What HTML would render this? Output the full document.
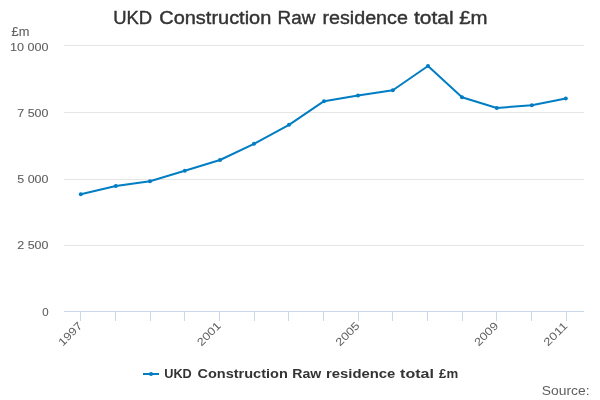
<!DOCTYPE html>
<html><head><meta charset="utf-8"><title>UKD Construction Raw residence total £m</title>
<style>
html,body{margin:0;padding:0;background:#fff;}
body{width:600px;height:400px;overflow:hidden;font-family:"Liberation Sans",sans-serif;}
svg{display:block;will-change:transform;}
text{font-family:"Liberation Sans",sans-serif;white-space:pre;}
</style></head><body>
<svg width="600" height="400" viewBox="0 0 600 400">
<rect x="0" y="0" width="600" height="400" fill="#ffffff"/>
<path d="M64 45.5H584" stroke="#e6e6e6" stroke-width="1" fill="none"/>
<path d="M64 112.5H584" stroke="#e6e6e6" stroke-width="1" fill="none"/>
<path d="M64 179.5H584" stroke="#e6e6e6" stroke-width="1" fill="none"/>
<path d="M64 245.5H584" stroke="#e6e6e6" stroke-width="1" fill="none"/>
<path d="M64 311.5H584" stroke="#ccd6eb" stroke-width="1" fill="none"/>
<path d="M80.5 312V321" stroke="#ccd6eb" stroke-width="1" fill="none"/>
<path d="M115.5 312V321" stroke="#ccd6eb" stroke-width="1" fill="none"/>
<path d="M150.5 312V321" stroke="#ccd6eb" stroke-width="1" fill="none"/>
<path d="M184.5 312V321" stroke="#ccd6eb" stroke-width="1" fill="none"/>
<path d="M219.5 312V321" stroke="#ccd6eb" stroke-width="1" fill="none"/>
<path d="M254.5 312V321" stroke="#ccd6eb" stroke-width="1" fill="none"/>
<path d="M288.5 312V321" stroke="#ccd6eb" stroke-width="1" fill="none"/>
<path d="M323.5 312V321" stroke="#ccd6eb" stroke-width="1" fill="none"/>
<path d="M358.5 312V321" stroke="#ccd6eb" stroke-width="1" fill="none"/>
<path d="M392.5 312V321" stroke="#ccd6eb" stroke-width="1" fill="none"/>
<path d="M427.5 312V321" stroke="#ccd6eb" stroke-width="1" fill="none"/>
<path d="M462.5 312V321" stroke="#ccd6eb" stroke-width="1" fill="none"/>
<path d="M496.5 312V321" stroke="#ccd6eb" stroke-width="1" fill="none"/>
<path d="M531.5 312V321" stroke="#ccd6eb" stroke-width="1" fill="none"/>
<path d="M566.5 312V321" stroke="#ccd6eb" stroke-width="1" fill="none"/>
<text x="113.25" y="24" font-size="18" font-weight="normal" fill="#333333" stroke="#333333" stroke-width="0.4" textLength="38.94" lengthAdjust="spacingAndGlyphs">UKD</text>
<text x="159.25" y="24" font-size="18" font-weight="normal" fill="#333333" stroke="#333333" stroke-width="0.4" textLength="112.05" lengthAdjust="spacingAndGlyphs">Construction</text>
<text x="277.5" y="24" font-size="18" font-weight="normal" fill="#333333" stroke="#333333" stroke-width="0.4" textLength="37.81" lengthAdjust="spacingAndGlyphs">Raw</text>
<text x="322.5" y="24" font-size="18" font-weight="normal" fill="#333333" stroke="#333333" stroke-width="0.4" textLength="85.36" lengthAdjust="spacingAndGlyphs">residence</text>
<text x="414.05" y="24" font-size="18" font-weight="normal" fill="#333333" stroke="#333333" stroke-width="0.4" textLength="39.52" lengthAdjust="spacingAndGlyphs">total</text>
<text x="459.25" y="24" font-size="18" font-weight="normal" fill="#333333" stroke="#333333" stroke-width="0.4" textLength="28.37" lengthAdjust="spacingAndGlyphs">£m</text>
<text x="164.25" y="378" font-size="12" font-weight="bold" fill="#333333" textLength="27.56" lengthAdjust="spacingAndGlyphs">UKD</text>
<text x="197.45" y="378" font-size="12" font-weight="bold" fill="#333333" textLength="90.38" lengthAdjust="spacingAndGlyphs">Construction</text>
<text x="292.2" y="378" font-size="12" font-weight="bold" fill="#333333" textLength="29.08" lengthAdjust="spacingAndGlyphs">Raw</text>
<text x="326.05" y="378" font-size="12" font-weight="bold" fill="#333333" textLength="69.23" lengthAdjust="spacingAndGlyphs">residence</text>
<text x="400.1" y="378" font-size="12" font-weight="bold" fill="#333333" textLength="33.86" lengthAdjust="spacingAndGlyphs">total</text>
<text x="439.1" y="378" font-size="12" font-weight="bold" fill="#333333" textLength="19.06" lengthAdjust="spacingAndGlyphs">£m</text>
<text x="541.8" y="394.5" font-size="12" font-weight="normal" fill="#606060" textLength="47.82" lengthAdjust="spacingAndGlyphs">Source:</text>
<text x="11.55" y="36" font-size="12" font-weight="normal" fill="#606060" stroke="#606060" stroke-width="0.1" textLength="17.78" lengthAdjust="spacingAndGlyphs">£m</text>
<text x="10.0" y="51" font-size="11" font-weight="normal" fill="#606060" stroke="#606060" stroke-width="0.1" textLength="38.51" lengthAdjust="spacingAndGlyphs">10 000</text>
<text x="17.3" y="117" font-size="11" font-weight="normal" fill="#606060" stroke="#606060" stroke-width="0.1" textLength="31.19" lengthAdjust="spacingAndGlyphs">7 500</text>
<text x="17.3" y="183" font-size="11" font-weight="normal" fill="#606060" stroke="#606060" stroke-width="0.1" textLength="31.18" lengthAdjust="spacingAndGlyphs">5 000</text>
<text x="17.3" y="249" font-size="11" font-weight="normal" fill="#606060" stroke="#606060" stroke-width="0.1" textLength="31.19" lengthAdjust="spacingAndGlyphs">2 500</text>
<text x="42.25" y="316" font-size="11" font-weight="normal" fill="#606060" stroke="#606060" stroke-width="0.1" textLength="6.37" lengthAdjust="spacingAndGlyphs">0</text>
<text x="54.43" y="326.5" font-size="11" fill="#606060" textLength="28.5" lengthAdjust="spacingAndGlyphs" transform="rotate(-45 82.93 326.5)">1997</text>
<text x="193.10" y="326.5" font-size="11" fill="#606060" textLength="28.5" lengthAdjust="spacingAndGlyphs" transform="rotate(-45 221.60 326.5)">2001</text>
<text x="331.77" y="326.5" font-size="11" fill="#606060" textLength="28.5" lengthAdjust="spacingAndGlyphs" transform="rotate(-45 360.27 326.5)">2005</text>
<text x="470.43" y="326.5" font-size="11" fill="#606060" textLength="28.5" lengthAdjust="spacingAndGlyphs" transform="rotate(-45 498.93 326.5)">2009</text>
<text x="539.77" y="326.5" font-size="11" fill="#606060" textLength="28.5" lengthAdjust="spacingAndGlyphs" transform="rotate(-45 568.27 326.5)">2011</text>
<path d="M80.8 194.2 L115.8 186 L150 181.2 L184.8 170.8 L220 160 L254 143.8 L289 124.8 L324 101.2 L358 95.5 L392.8 90.2 L428 66 L462 97.2 L496.8 108 L531.8 105.2 L565.8 98.5" stroke="#007dc3" stroke-width="2" fill="none" stroke-linejoin="round" stroke-linecap="round"/>
<circle cx="80.8" cy="194.2" r="2" fill="#007dc3"/>
<circle cx="115.8" cy="186" r="2" fill="#007dc3"/>
<circle cx="150" cy="181.2" r="2" fill="#007dc3"/>
<circle cx="184.8" cy="170.8" r="2" fill="#007dc3"/>
<circle cx="220" cy="160" r="2" fill="#007dc3"/>
<circle cx="254" cy="143.8" r="2" fill="#007dc3"/>
<circle cx="289" cy="124.8" r="2" fill="#007dc3"/>
<circle cx="324" cy="101.2" r="2" fill="#007dc3"/>
<circle cx="358" cy="95.5" r="2" fill="#007dc3"/>
<circle cx="392.8" cy="90.2" r="2" fill="#007dc3"/>
<circle cx="428" cy="66" r="2" fill="#007dc3"/>
<circle cx="462" cy="97.2" r="2" fill="#007dc3"/>
<circle cx="496.8" cy="108" r="2" fill="#007dc3"/>
<circle cx="531.8" cy="105.2" r="2" fill="#007dc3"/>
<circle cx="565.8" cy="98.5" r="2" fill="#007dc3"/>
<path d="M143 374H159" stroke="#007dc3" stroke-width="2" fill="none"/>
<circle cx="151" cy="374" r="2" fill="#007dc3"/>
</svg></body></html>
